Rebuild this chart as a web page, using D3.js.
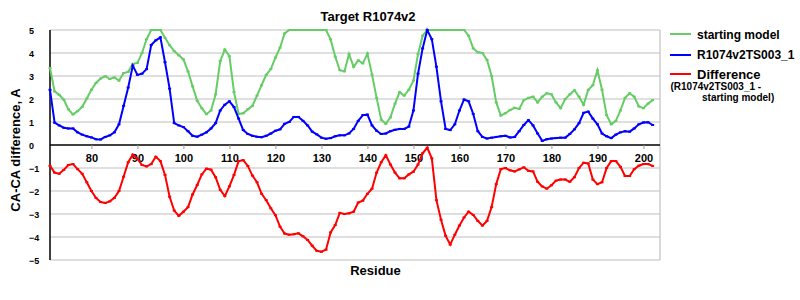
<!DOCTYPE html>
<html>
<head>
<meta charset="utf-8">
<script src="https://cdn.jsdelivr.net/npm/d3@7"></script>
<style>
  body { margin: 0; background: #fff; }
  text { font-family: "Liberation Sans", Arial, sans-serif; font-weight: bold; }
</style>
</head>
<body>
<div id="chart"></div>
<script>
const width = 800;
const height = 300;

// First residue of the series, one value per residue after it
const firstResidue = 71;

const startingModel = [
  3.35, 2.33, 2.18, 1.97, 1.55, 1.33, 1.47, 1.66, 2.02, 2.4,
  2.7, 2.89, 2.99, 2.87, 2.94, 2.8, 3.13, 3.18, 3.53, 3.57,
  4.0, 4.6, 5, 5, 5, 4.66, 4.34, 4.08, 3.9, 3.72,
  3.2, 2.55, 1.92, 1.6, 1.34, 1.5, 2.2, 3.65, 4.15, 3.86,
  2.3, 1.35, 1.38, 1.55, 1.7, 2.15, 2.6, 3.05, 3.3, 3.8,
  4.23, 4.85, 5, 5, 5, 5, 5, 5, 5, 5,
  5, 4.59, 3.84, 3.25, 3.2, 3.95, 3.4, 3.68, 3.55, 3.97,
  3.06, 2.05, 1.1, 0.92, 1.2, 1.8, 2.3, 2.15, 2.4, 2.8,
  3.95, 4.75, 5, 5, 5, 5, 5, 5, 5, 5,
  5, 4.75, 4.2, 4.03, 4.0, 3.7, 3.0, 1.85, 1.28, 1.38,
  1.52, 1.62, 1.57, 1.95, 2.05, 2.1, 1.85, 2.1, 2.25, 2.2,
  1.85, 1.6, 2.0, 2.2, 2.38, 2.1, 1.75, 2.4, 2.6, 3.25,
  2.4, 1.3, 0.9, 1.05, 1.5, 2.05, 2.25, 2.1, 1.68, 1.6,
  1.8, 1.95
];

const tsModel = [
  2.4, 0.97, 0.85, 0.75, 0.72, 0.72, 0.55, 0.45, 0.38, 0.33,
  0.25, 0.24, 0.35, 0.42, 0.55, 0.9, 1.7, 2.5, 3.45, 3.05,
  3.1, 3.3, 4.35, 4.55, 4.68, 3.6, 2.45, 0.95, 0.85, 0.78,
  0.6, 0.4, 0.36, 0.45, 0.55, 0.72, 0.95, 1.5, 1.75, 1.9,
  1.65, 1.15, 0.65, 0.48, 0.4, 0.36, 0.34, 0.4, 0.5, 0.62,
  0.68, 0.92, 1.0, 1.22, 1.22, 1.05, 0.85, 0.58, 0.46, 0.32,
  0.27, 0.3, 0.38, 0.42, 0.42, 0.5, 0.7, 1.05, 1.3, 1.32,
  0.85, 0.62, 0.48, 0.5, 0.6, 0.66, 0.7, 0.7, 0.8, 1.5,
  3.1, 4.2, 5, 4.6, 3.4, 1.9, 0.7, 0.65, 0.9, 1.5,
  1.98, 1.9, 1.35, 0.6, 0.35, 0.28, 0.32, 0.35, 0.38, 0.4,
  0.33, 0.35, 0.6, 0.87, 1.08, 0.85, 0.5, 0.18, 0.25, 0.28,
  0.3, 0.32, 0.32, 0.48, 0.68, 0.95, 1.4, 1.45, 1.15, 0.9,
  0.5, 0.38, 0.3, 0.45, 0.55, 0.6, 0.58, 0.72, 0.9, 0.98,
  0.99, 0.87
];

const difference = [
  -0.91, -1.2, -1.25, -1.08, -0.87, -0.83, -1.05, -1.25, -1.62, -2.0,
  -2.3, -2.48, -2.52, -2.45, -2.3, -2.0, -1.38, -0.75, -0.42, -0.6,
  -0.87, -0.93, -0.83, -0.51, -0.7, -1.3, -2.25, -2.85, -3.08, -2.9,
  -2.7, -2.15, -1.74, -1.28, -1.03, -1.07, -1.4, -1.95, -2.22, -1.8,
  -1.3, -0.7, -0.66, -0.91, -1.33, -1.62, -2.12, -2.4, -2.75, -3.05,
  -3.55, -3.85, -3.9, -3.88, -3.84, -3.97, -4.13, -4.38, -4.6, -4.64,
  -4.55, -3.8, -3.48, -2.95, -3.0, -2.97, -2.9, -2.5, -2.42, -2.12,
  -1.9, -1.2, -0.75, -0.45, -0.85, -1.2, -1.45, -1.45, -1.28, -1.16,
  -0.85, -0.36, -0.12, -0.58, -2.4, -3.25, -3.95, -4.33, -3.9, -3.5,
  -3.15, -2.9, -3.04, -3.3, -3.5, -3.3, -2.7, -1.7, -1.05, -1.0,
  -1.1, -1.15, -1.06, -0.97, -1.12, -1.15, -1.6, -1.8, -1.9, -1.75,
  -1.55, -1.5, -1.5, -1.6, -1.4, -1.0, -0.77, -0.8, -1.5, -1.7,
  -1.62, -1.0, -0.7, -0.7, -0.95, -1.35, -1.35, -1.05, -0.9, -0.83,
  -0.83, -0.91
];

const xTicks = [80, 90, 100, 110, 120, 130, 140, 150, 160, 170, 180, 190, 200];
const yTicks = [5, 4, 3, 2, 1, 0, -1, -2, -3, -4, -5];

const series = [
  { name: "starting model", values: startingModel, color: "#66cc66" },
  { name: "R1074v2TS003_1", values: tsModel, color: "#0000ff" },
  { name: "Difference", values: difference, color: "#ff0000" }
];

const plot = { left: 50, right: 660, top: 30, bottom: 260 };

const svg = d3.select("#chart")
  .append("svg")
  .attr("width", width)
  .attr("height", height);

const x = d3.scaleLinear()
  .domain([firstResidue, 203.6])
  .range([plot.left, plot.right]);

const y = d3.scaleLinear()
  .domain([-5, 5])
  .range([plot.bottom, plot.top]);

// Grid lines
svg.append("g")
  .selectAll("line")
  .data(yTicks.filter(d => d !== 0))
  .enter().append("line")
  .attr("x1", plot.left)
  .attr("x2", plot.right)
  .attr("y1", d => y(d))
  .attr("y2", d => y(d))
  .attr("stroke", "#c0c0c0")
  .attr("stroke-width", 1.2);

// Right border
svg.append("line")
  .attr("x1", plot.right).attr("x2", plot.right)
  .attr("y1", plot.top).attr("y2", plot.bottom)
  .attr("stroke", "#c0c0c0")
  .attr("stroke-width", 1.2);

// Y axis labels
svg.append("g")
  .selectAll("text")
  .data(yTicks)
  .enter().append("text")
  .attr("x", 29)
  .attr("y", d => y(d) + 3.5)
  .attr("font-family", "DejaVu Sans")
  .attr("font-size", "9px")
  .text(d => d < 0 ? "\u2212" + Math.abs(d) : d);

// X axis at zero with ticks
const xAxis = svg.append("g")
  .attr("transform", `translate(0,${y(0)})`)
  .call(d3.axisBottom(x).tickValues(xTicks).tickSize(4).tickPadding(5).tickSizeOuter(0));
xAxis.select(".domain").attr("stroke", "#000").attr("stroke-width", 1.5)
  .attr("d", `M${plot.left},0H${plot.right}`);
xAxis.selectAll(".tick line").attr("stroke", "#999");
xAxis.selectAll(".tick text")
  .attr("font-family", "DejaVu Sans")
  .attr("font-weight", "bold")
  .attr("font-size", "11px")
  .attr("fill", "#000");

// Y axis line
svg.append("line")
  .attr("x1", plot.left).attr("x2", plot.left)
  .attr("y1", plot.top).attr("y2", plot.bottom)
  .attr("stroke", "#000")
  .attr("stroke-width", 1.5);

// Series lines and markers
const line = d3.line()
  .x((d, i) => x(firstResidue + i))
  .y(d => y(d));

series.forEach(s => {
  svg.append("path")
    .datum(s.values)
    .attr("fill", "none")
    .attr("stroke", s.color)
    .attr("stroke-width", 2)
    .attr("d", line);

  svg.append("g")
    .selectAll("rect")
    .data(s.values)
    .enter().append("rect")
    .attr("x", (d, i) => x(firstResidue + i) - 1.5)
    .attr("y", d => y(d) - 1)
    .attr("width", 3)
    .attr("height", 2)
    .attr("fill", s.color);
});

// Title and axis titles
svg.append("text")
  .attr("x", 368)
  .attr("y", 20.5)
  .attr("text-anchor", "middle")
  .attr("font-size", "13px")
  .text("Target R1074v2");

svg.append("text")
  .attr("x", 375.5)
  .attr("y", 275)
  .attr("text-anchor", "middle")
  .attr("font-size", "13px")
  .text("Residue");

svg.append("text")
  .attr("transform", "translate(20,150) rotate(-90)")
  .attr("text-anchor", "middle")
  .attr("font-size", "13px")
  .text("CA-CA difference, A");

// Legend
const legendRows = [34, 55, 74];
series.forEach((s, i) => {
  const ly = legendRows[i];
  svg.append("line")
    .attr("x1", 670).attr("x2", 691)
    .attr("y1", ly).attr("y2", ly)
    .attr("stroke", s.color)
    .attr("stroke-width", 2);
  svg.append("rect")
    .attr("x", 679).attr("y", ly - 1)
    .attr("width", 3).attr("height", 2)
    .attr("fill", s.color);
});

svg.append("text").attr("x", 697).attr("y", 38.5).attr("font-size", "12px").text("starting model");
svg.append("text").attr("x", 697).attr("y", 59).attr("font-size", "12px").text("R1074v2TS003_1");
svg.append("text").attr("x", 697).attr("y", 78.5).attr("font-size", "13px").text("Difference");
svg.append("text").attr("x", 670.5).attr("y", 90).attr("font-size", "10px").text("(R1074v2TS003_1 -");
svg.append("text").attr("x", 702).attr("y", 101).attr("font-size", "10px").text("starting model)");
</script>
</body>
</html>
